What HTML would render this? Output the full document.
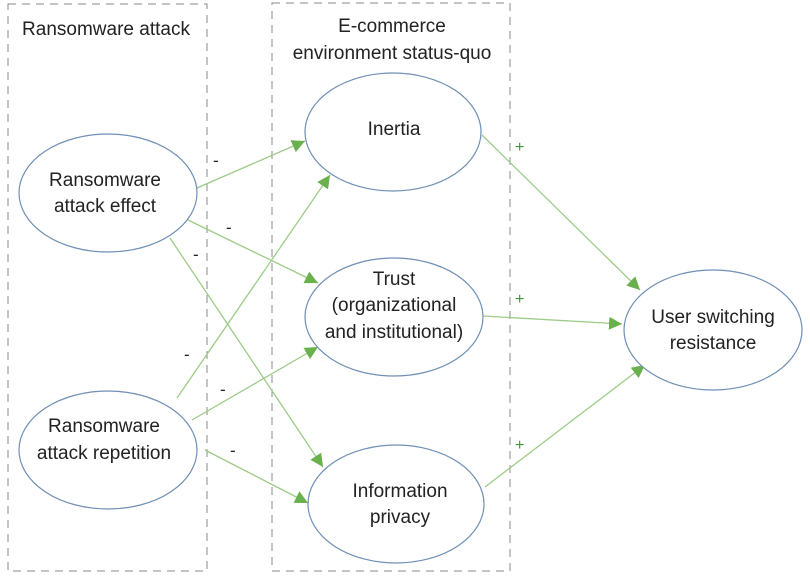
<!DOCTYPE html>
<html><head><meta charset="utf-8"><style>
html,body{margin:0;padding:0;background:#fff}
svg{display:block}
text{font-family:"Liberation Sans","DejaVu Sans",sans-serif;font-size:19px;fill:#222}
text.p{fill:#3a9a3a;font-size:16px}
text.m{font-size:17px}
</style></head><body>
<svg width="810" height="576" viewBox="0 0 810 576" xmlns="http://www.w3.org/2000/svg">
<defs><marker id="a" viewBox="0 0 10 10" refX="10" refY="5" markerWidth="13" markerHeight="13" markerUnits="userSpaceOnUse" orient="auto"><path d="M0,0L10,5L0,10z" fill="#6ab04c"/></marker></defs>
<rect x="8" y="4" width="199" height="567" fill="none" stroke="#888" stroke-dasharray="8,6"/>
<rect x="272" y="3" width="238" height="568" fill="none" stroke="#888" stroke-dasharray="8,6"/>
<text x="106" y="35" text-anchor="middle">Ransomware attack</text>
<text x="392" y="32" text-anchor="middle">E-commerce</text>
<text x="392" y="59" text-anchor="middle">environment status-quo</text>
<g stroke="#9ccc88" stroke-width="1.3" fill="none" marker-end="url(#a)">
<line x1="197" y1="188" x2="305" y2="141"/>
<line x1="188" y1="220" x2="318" y2="283"/>
<line x1="170" y1="238" x2="323" y2="467"/>
<line x1="177" y1="398" x2="330" y2="175"/>
<line x1="192" y1="420" x2="318" y2="347"/>
<line x1="205" y1="450" x2="308" y2="503"/>
<line x1="482" y1="135" x2="640" y2="290"/>
<line x1="483" y1="316" x2="622" y2="324"/>
<line x1="485" y1="487" x2="645" y2="365"/>
</g>
<g fill="#fff" stroke="#6f8fb5" stroke-width="1.2">
<ellipse cx="108" cy="193" rx="89" ry="59"/>
<ellipse cx="108" cy="450" rx="89" ry="59"/>
<ellipse cx="393" cy="132" rx="88" ry="59"/>
<ellipse cx="394" cy="317" rx="89" ry="59"/>
<ellipse cx="396" cy="504" rx="88" ry="59"/>
<ellipse cx="713" cy="330" rx="89" ry="60"/>
</g>
<g text-anchor="middle">
<text x="105" y="186">Ransomware</text><text x="105" y="212">attack effect</text>
<text x="104" y="432">Ransomware</text><text x="104" y="459">attack repetition</text>
<text x="394" y="135">Inertia</text>
<text x="394" y="285">Trust</text><text x="394" y="311">(organizational</text><text x="394" y="338">and institutional)</text>
<text x="400" y="497">Information</text><text x="400" y="523">privacy</text>
<text x="713" y="323">User switching</text><text x="713" y="349">resistance</text>
</g>
<text class="m" x="213" y="166">-</text><text class="m" x="226" y="233">-</text><text class="m" x="193" y="260">-</text>
<text class="m" x="184" y="360">-</text><text class="m" x="220" y="395">-</text><text class="m" x="230" y="456">-</text>
<text class="p" x="515" y="152">+</text><text class="p" x="515" y="304">+</text><text class="p" x="515" y="450">+</text>
</svg>
</body></html>
